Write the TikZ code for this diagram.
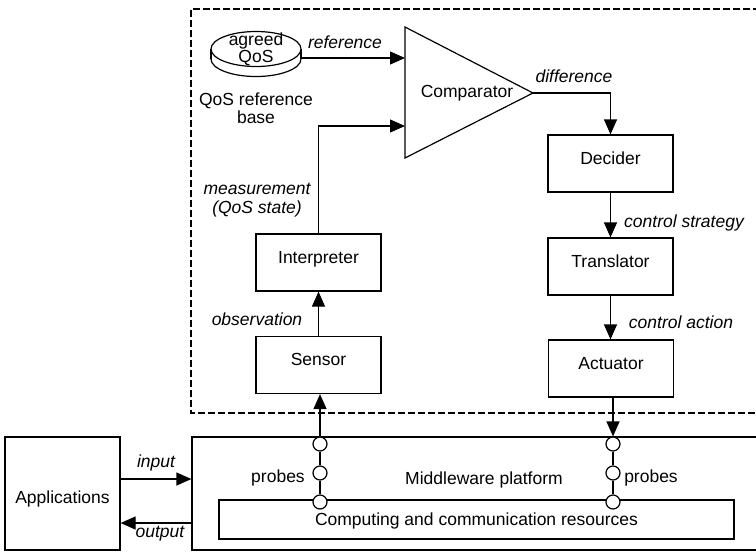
\documentclass[tikz,border=0pt]{standalone}
\usepackage{fontspec}
\setmainfont{Liberation Sans}
\usetikzlibrary{arrows.meta}
\begin{document}
\begin{tikzpicture}[x=1pt,y=-1pt,font=\fontsize{17.5}{20}\selectfont,
  line width=1.2pt,
  arr/.style={-{Triangle[length=15pt,width=13pt]}},
  blk/.style={draw,minimum width=125pt,minimum height=57pt,inner sep=0pt,text height=12pt,text depth=11pt},
  lab/.style={font=\fontsize{17.5}{20}\selectfont\itshape,anchor=base,inner sep=0pt},
  txt/.style={anchor=base,inner sep=0pt},
  probe/.style={circle,draw,fill=white,minimum size=14pt,inner sep=0pt},
  bound/.style={draw,dash pattern=on 7pt off 3pt,line width=2pt}]
\useasboundingbox (0,0) rectangle (756,552);
\clip (0,0) rectangle (756,552);

% dashed boundary of the control loop
\draw[bound] (800,9) -- (191,9) -- (191,413) -- (800,413);

% boxes
\node[blk] (sensor) at (318.5,365) {Sensor};
\node[blk] (interp) at (318.5,262.5) {Interpreter};
\node[blk] (decider) at (610.5,163.5) {Decider};
\node[blk] (transl) at (610.5,266.5) {Translator};
\node[blk] (actu) at (611,368.5) {Actuator};
\node[draw,minimum width=115pt,minimum height=113pt,inner sep=0pt,text height=20pt,text depth=1pt] (apps) at (62.5,493.5) {Applications};
\node[draw,minimum width=600pt,minimum height=113pt,inner sep=0pt] (mw) at (492,493.5) {};
\node[draw,minimum width=515pt,minimum height=39pt,inner sep=0pt,text height=12pt,text depth=1pt] (comp) at (476.5,519.5) {Computing and communication resources};
\node[txt] (mwtext) at (484,484) {Middleware platform};

% comparator
\coordinate (ctop) at (405,27);
\coordinate (cbot) at (405,158);
\coordinate (cout) at (533,93);
\coordinate (cin1) at (405,58);
\coordinate (cin2) at (405,126);
\draw (ctop) -- (cout) -- (cbot) -- cycle;
\node[txt] (comparator) at (467,97) {Comparator};

% QoS disk
\draw[fill=white] (256,59) ellipse[x radius=45,y radius=17.5];
\fill[white] (211,49) rectangle (301,59);
\draw (211,49) -- (211,59);
\draw (301,49) -- (301,59);
\draw[fill=white] (256,49) ellipse[x radius=45,y radius=17.5];
\node[align=center,inner sep=0pt,font=\fontsize{17.5}{17}\selectfont] (agreed) at (256,49) {agreed\\QoS};
\coordinate (diskR) at (301,58);
\node[align=center,inner sep=0pt,font=\fontsize{17.5}{18}\selectfont] (qosbase) at (256,108) {QoS reference\\base};

% probes
\node[probe] (pl1) at (320,444) {};
\node[probe] (pl2) at (320,473) {};
\node[probe] (pl3) at (320,502) {};
\node[probe] (pr1) at (613,444) {};
\node[probe] (pr2) at (613,473) {};
\node[probe] (pr3) at (613,502) {};
\draw (pl1) -- (pl2) -- (pl3);
\draw (pr1) -- (pr2) -- (pr3);
\node[txt] (pbl) at (278,482) {probes};
\node[txt] (pbr) at (651,482) {probes};

% connectors
\draw[arr] (diskR) -- (cin1);
\draw[arr] (interp.north) |- (cin2);
\draw[arr] (sensor) -- (interp);
\draw[arr] (pl1.north) -- (pl1.north |- sensor.south);
\draw[arr] (cout) -| (decider.north);
\draw[arr] (decider) -- (transl);
\draw[arr] (transl.south) -- (transl.south |- actu.north);
\draw[arr] (pr1 |- actu.south) -- (pr1.north);
\coordinate (inY) at (0,479);
\coordinate (outY) at (0,523);
\draw[arr] (apps.east |- inY) -- (mw.west |- inY);
\draw[arr] (mw.west |- outY) -- (apps.east |- outY);

% labels
\node[lab] (lref) at (345,48) {reference};
\node[lab] (ldiff) at (574,82) {difference};
\node[lab] (lstrat) at (684,227) {control strategy};
\node[lab] (lact) at (681,328) {control action};
\node[lab,anchor=center,align=center,font=\fontsize{17.5}{19}\selectfont\itshape] (lmeas) at (257,200.5) {measurement\\(QoS state)};
\node[lab] (lobs) at (257,325) {observation};
\node[lab] (lin) at (156,467) {input};
\node[lab] (lout) at (160,537) {output};
\end{tikzpicture}
\end{document}
